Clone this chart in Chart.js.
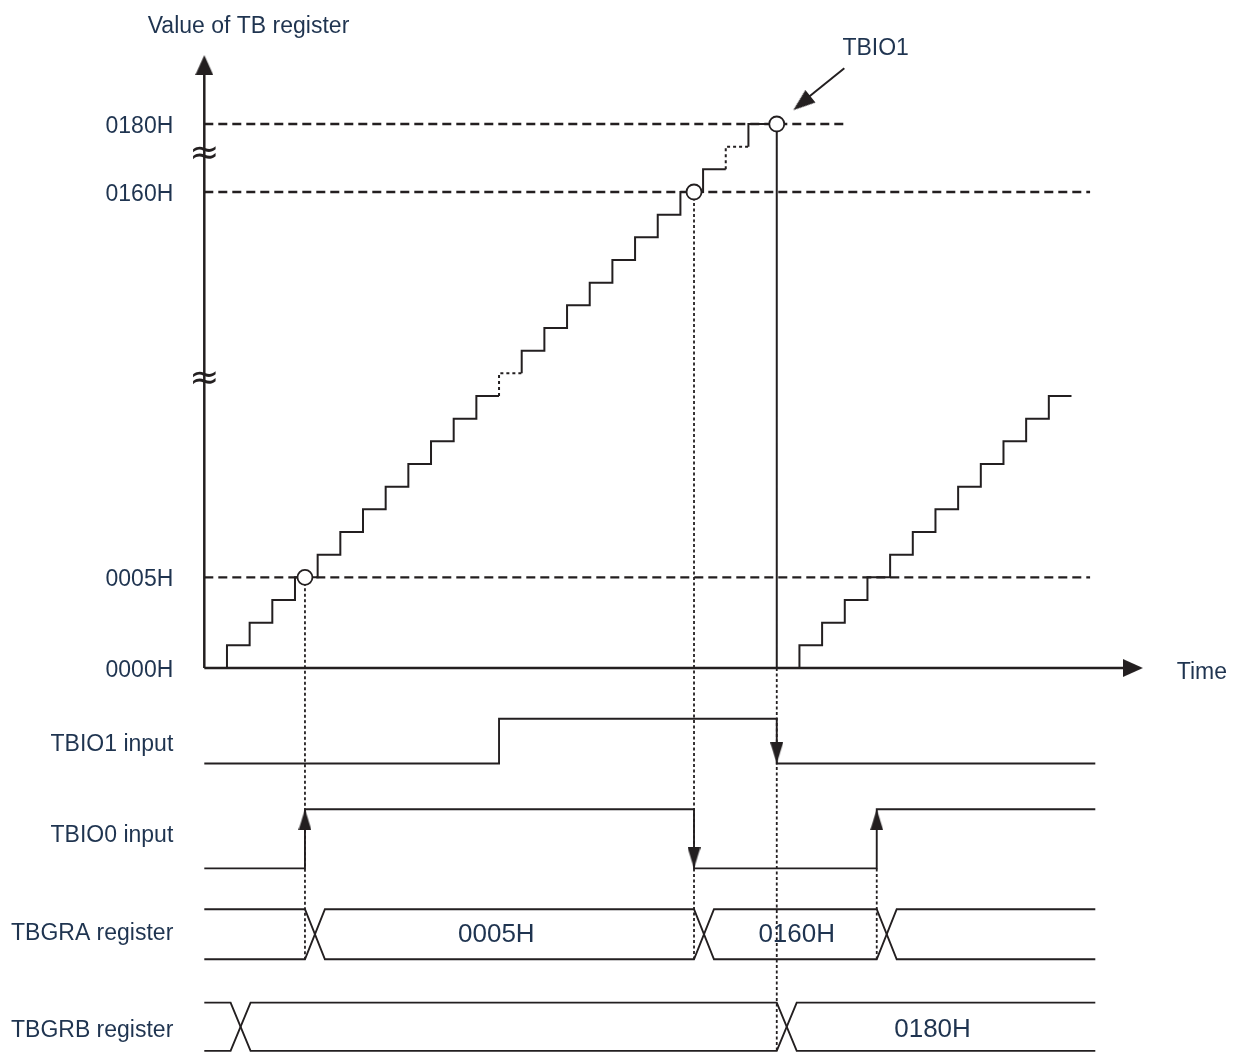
<!DOCTYPE html>
<html>
<head>
<meta charset="utf-8">
<title>TB register capture timing</title>
<script src="https://cdn.jsdelivr.net/npm/chart.js@4.4.1/dist/chart.umd.min.js"></script>
<style>
  html, body { margin: 0; padding: 0; background: #fff; }
  #wrap { width: 1237px; height: 1052px; }
</style>
</head>
<body>
<div id="wrap"><canvas id="timing" width="1237" height="1052"></canvas></div>
<script>
// x: time in counter clocks, y: counter steps (the axis is broken twice, so
// 0160H and 0180H sit only a few steps above 0005H). Signal lanes live below 0.

// TB counter, one point per level end (drawn with stepped: 'after')
const counterTimes = [1, 2, 3, 4, 5, 6, 7, 8, 9, 10, 11, 12, 13, 14, 15, 16, 17, 18, 19, 20, 21, 22, 23, 24, 25.25,
                      26.25, 27.25, 28.25, 29.25, 30.25, 31.25, 32.25, 33.25, 34.25, 35.25, 36.25, 37.25, 38.25];
const counterValues = [0, 1, 2, 3, 4, 5, 6, 7, 8, 9, 10, 11, 12, 13, 14, 15, 16, 17, 18, 19, 20, 21, 22, 23, 24,
                       0, 1, 2, 3, 4, 5, 6, 7, 8, 9, 10, 11, 12];
const dottedSteps = [13, 23];   // steps drawn dotted (counts left out)

// y axis ticks (register values and lane names)
const tickValues = [24, 21, 4, 0, -3.26, -7.28, -11.6, -15.88];
const tickLabels = ['0180H', '0160H', '0005H', '0000H', 'TBIO1 input', 'TBIO0 input', 'TBGRA register', 'TBGRB register'];
const breakLevels = [22.63, 12.7];

// compare levels (dashed) and where each dashed line stops
const compareLevels = [24, 21, 4];
const compareEnds = [28.4, 39.07, 39.07];

// capture points
const captureTimes = [4.44, 21.6, 25.25];
const captureValues = [4, 21, 24];

// input pins
const tbio1Times = [0, 13, 25.25, 39.3];
const tbio1States = [0, 1, 0, 0];
const tbio0Times = [0, 4.44, 21.6, 29.66, 39.3];
const tbio0States = [0, 1, 0, 1, 1];

// registers
const tbgraChanges = [4.44, 21.6, 29.66];
const tbgraLabels = ['0005H', '0160H'];
const tbgraLabelTimes = [12.88, 26.13];
const tbgrbChanges = [1.16, 25.25];
const tbgrbLabels = ['0180H'];
const tbgrbLabelTimes = [32.12];

// lane levels
const tbio1Low = -4.21, tbio1High = -2.24;
const tbio0Low = -8.84, tbio0High = -6.23;
const tbgraTop = -10.64, tbgraBottom = -12.85, tbgraMid = -11.68;
const tbgrbTop = -14.76, tbgrbBottom = -16.89, tbgrbMid = -15.86;
const laneEnd = 39.3;
const crossW = 0.88;

const ink = '#231f20';
const textColor = '#1f3450';
const fontFamily = '"Liberation Sans", Arial, Helvetica, sans-serif';
const textNudge = 2.5;   // px, 'middle' baseline sits a bit high for caps

function arrowHead(w, h) {
    // tip sits in the middle of the canvas so the point lands on the tip
    const c = document.createElement('canvas');
    c.width = w;
    c.height = h * 2;
    const g = c.getContext('2d');
    g.fillStyle = ink;
    g.beginPath();
    g.moveTo(w / 2, h);
    g.lineTo(w, h * 2);
    g.lineTo(0, h * 2);
    g.closePath();
    g.fill();
    return c;
}
const axisArrow = arrowHead(18, 20);
const edgeArrow = arrowHead(13, 21);
const noteArrow = arrowHead(16, 22);

function pts(xs, ys) {
    return xs.map((x, i) => ({x: x, y: ys[i]}));
}

function line(data, extra) {
    return Object.assign({
        data: data, showLine: true, borderColor: ink, borderWidth: 2,
        pointRadius: 0, fill: false, tension: 0, clip: false, order: 5
    }, extra || {});
}

function signal(times, states, low, high) {
    return times.map((t, i) => ({x: t, y: states[i] ? high : low}));
}

function edges(times, states, low, high, dir) {
    const out = [];
    for (let i = 1; i < times.length; i++) {
        if (states[i] === states[i - 1]) continue;
        const rising = states[i] > states[i - 1];
        if (dir === 'fall' && rising) continue;
        out.push({x: times[i], y: rising ? high : low, rising: rising});
    }
    return out;
}

function bus(changes, top, bottom) {
    const a = [{x: 0, y: top}], b = [{x: 0, y: bottom}];
    let up = true;
    changes.forEach(c => {
        a.push({x: c, y: up ? top : bottom}, {x: c + crossW, y: up ? bottom : top});
        b.push({x: c, y: up ? bottom : top}, {x: c + crossW, y: up ? top : bottom});
        up = !up;
    });
    a.push({x: laneEnd, y: up ? top : bottom});
    b.push({x: laneEnd, y: up ? bottom : top});
    return [a, b];
}

const datasets = [];

// axes
datasets.push(line([{x: 0, y: 0}, {x: 0, y: 26.3}], {borderWidth: 2.5}));
datasets.push(line([{x: 0, y: 0}, {x: 40.8, y: 0}], {borderWidth: 2.5}));

// compare levels
compareLevels.forEach((lv, i) => {
    datasets.push(line([{x: 0, y: lv}, {x: compareEnds[i], y: lv}], {borderWidth: 2.3, borderDash: [9, 5]}));
});

// counter
datasets.push(line(pts(counterTimes, counterValues), {
    stepped: 'after',
    segment: {borderDash: c => dottedSteps.includes(c.p1DataIndex) ? [3, 3] : undefined}
}));

// dotted guides from the capture points down to the registers
const guides = [
    [captureTimes[0], captureValues[0], tbgraBottom],
    [captureTimes[1], captureValues[1], tbgraBottom],
    [captureTimes[2], 0, tbgrbBottom],
    [tbio0Times[3], tbio0Low, tbgraBottom]
];
guides.forEach(g => {
    datasets.push(line([{x: g[0], y: g[1]}, {x: g[0], y: g[2]}], {borderWidth: 1.8, borderDash: [3, 2.5]}));
});

// input pins
datasets.push(line(signal(tbio1Times, tbio1States, tbio1Low, tbio1High), {stepped: true, borderWidth: 1.9}));
datasets.push(line(signal(tbio0Times, tbio0States, tbio0Low, tbio0High), {stepped: true, borderWidth: 1.9}));

// registers
bus(tbgraChanges, tbgraTop, tbgraBottom).forEach(d => datasets.push(line(d, {borderWidth: 1.9})));
bus(tbgrbChanges, tbgrbTop, tbgrbBottom).forEach(d => datasets.push(line(d, {borderWidth: 1.9})));

// note arrow to the TBIO1 capture
datasets.push(line([{x: 28.23, y: 26.46}, {x: 26.3, y: 24.9}], {borderWidth: 2}));

// arrow heads
const pinEdges = edges(tbio0Times, tbio0States, tbio0Low, tbio0High)
    .concat(edges(tbio1Times, tbio1States, tbio1Low, tbio1High, 'fall'));
datasets.push({data: pinEdges.filter(e => e.rising), pointStyle: edgeArrow, pointRadius: 10, rotation: 0, clip: false, order: 1});
datasets.push({data: pinEdges.filter(e => !e.rising), pointStyle: edgeArrow, pointRadius: 10, rotation: 180, clip: false, order: 1});
datasets.push({data: [{x: 0, y: 27.04}], pointStyle: axisArrow, pointRadius: 10, rotation: 0, clip: false, order: 1});
datasets.push({data: [{x: 41.4, y: 0}], pointStyle: axisArrow, pointRadius: 10, rotation: 90, clip: false, order: 1});
datasets.push({data: [{x: 25.98, y: 24.61}], pointStyle: noteArrow, pointRadius: 10, rotation: 231, clip: false, order: 1});

// capture circles
datasets.push({
    data: pts(captureTimes, captureValues), pointStyle: 'circle', pointRadius: 7.5,
    backgroundColor: '#fff', borderColor: ink, borderWidth: 1.8, clip: false, order: 0
});

const notes = [
    {text: 'Value of TB register', x: 1.95, y: 28.41, size: 23},
    {text: 'TBIO1', x: 29.61, y: 27.44, size: 23},
    {text: 'Time', x: 44.0, y: -0.11, size: 23}
];
tbgraLabels.forEach((t, i) => notes.push({text: t, x: tbgraLabelTimes[i], y: tbgraMid, size: 26}));
tbgrbLabels.forEach((t, i) => notes.push({text: t, x: tbgrbLabelTimes[i], y: tbgrbMid, size: 26}));

const notesPlugin = {
    id: 'notes',
    afterDatasetsDraw: function (chart) {
        const ctx = chart.ctx;
        const sx = chart.scales.x, sy = chart.scales.y;
        ctx.save();
        ctx.textAlign = 'center';
        ctx.textBaseline = 'middle';
        notes.forEach(n => {
            ctx.font = n.size + 'px ' + fontFamily;
            ctx.fillStyle = textColor;
            ctx.fillText(n.text, sx.getPixelForValue(n.x), sy.getPixelForValue(n.y) + textNudge);
        });
        // axis break marks
        ctx.font = '36px "DejaVu Sans", sans-serif';
        ctx.fillStyle = ink;
        breakLevels.forEach(lv => {
            ctx.fillText('\u2248', sx.getPixelForValue(0), sy.getPixelForValue(lv));
        });
        ctx.restore();
    }
};

new Chart(document.getElementById('timing'), {
    type: 'scatter',
    data: {datasets: datasets},
    options: {
        responsive: false,
        animation: false,
        events: [],
        layout: {padding: 0, autoPadding: false},
        plugins: {legend: {display: false}, tooltip: {enabled: false}},
        scales: {
            x: {type: 'linear', display: false, min: 0, max: 45.55},
            y: {
                type: 'linear',
                position: 'left',
                min: -16.94,
                max: 29.47,
                grid: {display: false, drawTicks: false},
                border: {display: false},
                afterBuildTicks: function (s) {
                    s.ticks = tickValues.map(v => ({value: v}));
                },
                afterFit: function (s) {
                    s.width = 204.3;
                    s.paddingTop = 0;
                    s.paddingBottom = 0;
                },
                ticks: {
                    autoSkip: false,
                    padding: 31,
                    labelOffset: textNudge,
                    color: textColor,
                    font: {family: fontFamily, size: 23},
                    callback: function (v, i) {
                        return tickLabels[i];
                    }
                }
            }
        }
    },
    plugins: [notesPlugin]
});
</script>
</body>
</html>
